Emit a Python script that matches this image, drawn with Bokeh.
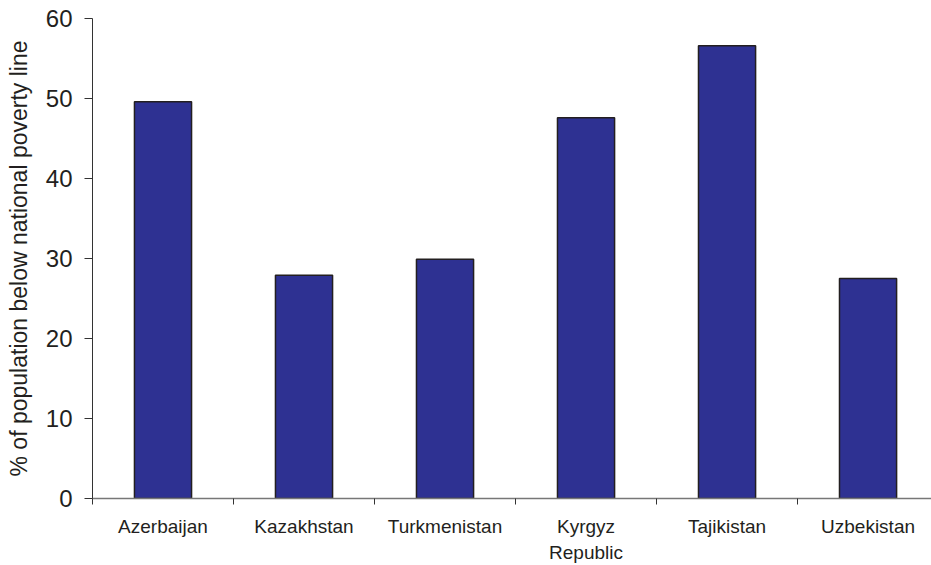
from bokeh.plotting import figure
from bokeh.models import FixedTicker, Range1d, ColumnDataSource
from bokeh.embed import file_html
from bokeh.resources import INLINE

countries = ["Azerbaijan", "Kazakhstan", "Turkmenistan", "Kyrgyz\nRepublic", "Tajikistan", "Uzbekistan"]
poverty = [49.6, 27.9, 29.9, 47.6, 56.6, 27.5]
y_ticks = [0, 10, 20, 30, 40, 50, 60]

xpos = [i + 0.5 for i in range(len(countries))]
src = ColumnDataSource(dict(x=xpos, top=poverty))

p = figure(width=931, height=565, output_backend="svg", toolbar_location=None,
           x_range=Range1d(0, 5.95), y_range=Range1d(0, 60),
           min_border_left=92, min_border_top=18, min_border_bottom=67, min_border_right=0)

p.vbar(x="x", top="top", width=0.405, bottom=0, source=src,
       fill_color="#2e3192", line_color="#231f20", line_width=1.5)

p.grid.visible = False
p.outline_line_color = None
p.background_fill_color = "white"
p.border_fill_color = "white"

xa = p.xaxis[0]
xa.ticker = FixedTicker(ticks=xpos, minor_ticks=list(range(len(countries) + 1)))
xa.major_label_overrides = {x: c for x, c in zip(xpos, countries)}
xa.major_tick_out = 0
xa.major_tick_in = 0
xa.minor_tick_out = 6
xa.minor_tick_in = 0
xa.minor_tick_line_color = "#333333"
xa.axis_line_color = "#777777"
xa.axis_line_width = 1.5
xa.major_label_text_font = "Liberation Sans"
xa.major_label_text_font_size = "19px"
xa.major_label_text_color = "#231f20"
xa.major_label_text_line_height = 1.25
xa.major_label_standoff = 11

ya = p.yaxis[0]
ya.ticker = FixedTicker(ticks=y_ticks)
ya.minor_tick_line_color = None
ya.major_tick_out = 8
ya.major_tick_in = 0
ya.major_tick_line_color = "#333333"
ya.axis_line_color = "#333333"
ya.axis_line_width = 1
ya.major_label_text_font = "Liberation Sans"
ya.major_label_text_font_size = "24px"
ya.major_label_text_color = "#231f20"
ya.major_label_standoff = 12
ya.axis_label = "% of population below national poverty line"
ya.axis_label_text_font = "Liberation Sans"
ya.axis_label_text_font_size = "23px"
ya.axis_label_text_font_style = "normal"
ya.axis_label_text_color = "#231f20"
ya.axis_label_standoff = 11

open("out.html", "w").write(file_html(p, INLINE))
